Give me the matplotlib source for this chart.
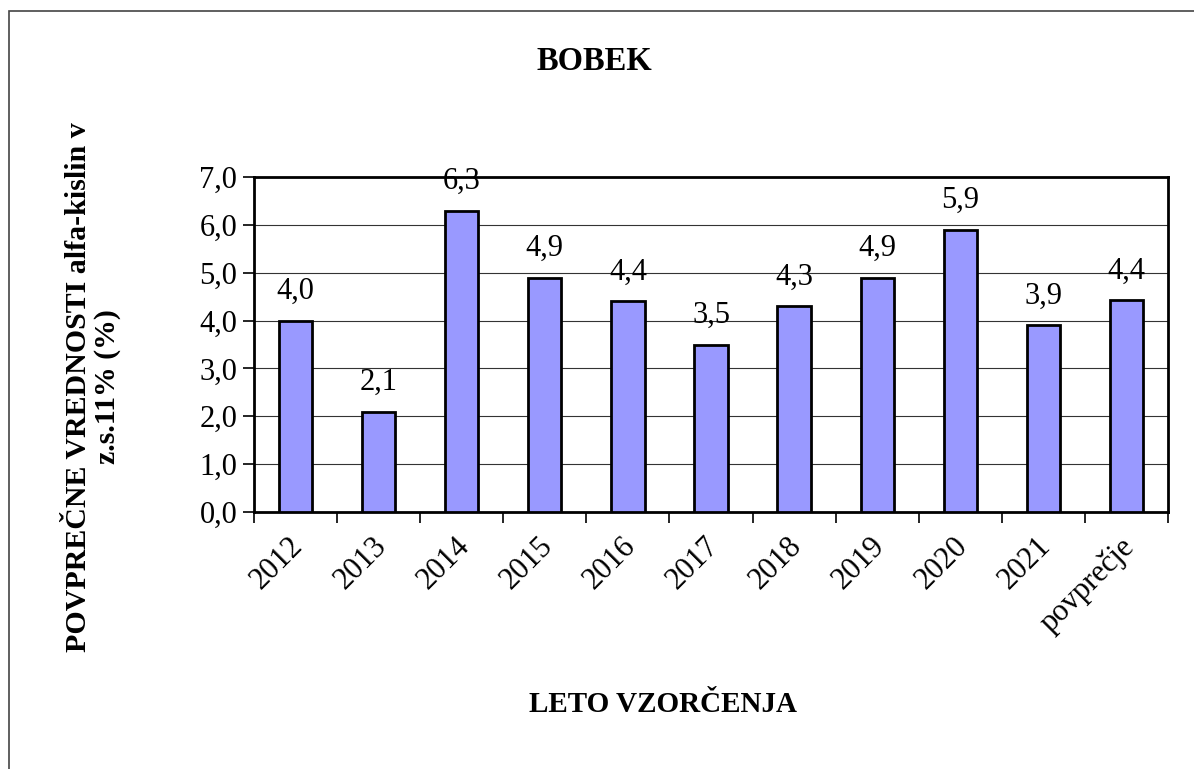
import matplotlib.pyplot as plt
import matplotlib.transforms as mtransforms
from matplotlib.patches import Rectangle
from matplotlib.ticker import FuncFormatter

# podatki
leta = ["2012", "2013", "2014", "2015", "2016", "2017", "2018", "2019", "2020", "2021", "povprečje"]
vrednosti = [4.0, 2.1, 6.3, 4.9, 4.4, 3.5, 4.3, 4.9, 5.9, 3.9, 4.42]

plt.rcParams['font.family'] = ['Liberation Serif', 'DejaVu Serif']

fig = plt.figure(figsize=(11.94, 7.69), dpi=100)
ax = fig.add_axes([254/1194, 1-512/769, (1168-254)/1194, (512-177)/769])

x = range(len(leta))
ax.bar(x, vrednosti, width=0.4, color='#9999FF', edgecolor='black', linewidth=2, zorder=3)

for i, v in zip(x, vrednosti):
    ax.text(i, v + 0.3, f"{v:.1f}".replace('.', ','), ha='center', va='bottom', fontsize=22)

ax.set_ylim(0, 7)
ax.set_xlim(-0.5, len(leta) - 0.5)
ax.set_yticks([0, 1, 2, 3, 4, 5, 6, 7])
ax.yaxis.set_major_formatter(FuncFormatter(lambda v, p: f"{v:.1f}".replace('.', ',')))
ax.grid(axis='y', color='#333333', linewidth=0.8, zorder=0)
for s in ax.spines.values():
    s.set_linewidth(2)

# kljukice med kategorijami
ax.set_xticks([i - 0.5 for i in range(len(leta) + 1)])
ax.set_xticklabels([])
ax.set_xticks(list(x), minor=True)
ax.set_xticklabels(leta, minor=True, rotation=45, ha='right', va='top',
                   rotation_mode='anchor', fontsize=22)
ax.tick_params(axis='x', which='minor', length=0, pad=14)
ax.tick_params(axis='x', which='major', length=8, width=1.2, direction='out')
ax.tick_params(axis='y', length=8, width=1.2, labelsize=22, pad=4)

# malo levo, kot v Excelu
premik = mtransforms.ScaledTranslation(-7/100, 0, fig.dpi_scale_trans)
for lbl in ax.get_xticklabels(minor=True):
    lbl.set_transform(lbl.get_transform() + premik)

fig.text(594/1194, 1-62/769, "BOBEK", ha='center', va='center', fontsize=23.5, fontweight='bold')
fig.text(663/1194, 1-705/769, "LETO VZORČENJA", ha='center', va='center', fontsize=21, fontweight='bold')
fig.text(93/1194, 1-387/769, "POVPREČNE VREDNOSTI alfa-kislin v\nz.s.11% (%)", ha='center', va='center',
         rotation=90, fontsize=21.5, fontweight='bold', linespacing=1.1)

# okvir slike
fig.patches.append(Rectangle((9/1194, -0.1), 1.2, 1 - 11/769 + 0.1, transform=fig.transFigure,
                             fill=False, edgecolor='#444444', linewidth=1.2))

fig.savefig("out.png", dpi=100)
